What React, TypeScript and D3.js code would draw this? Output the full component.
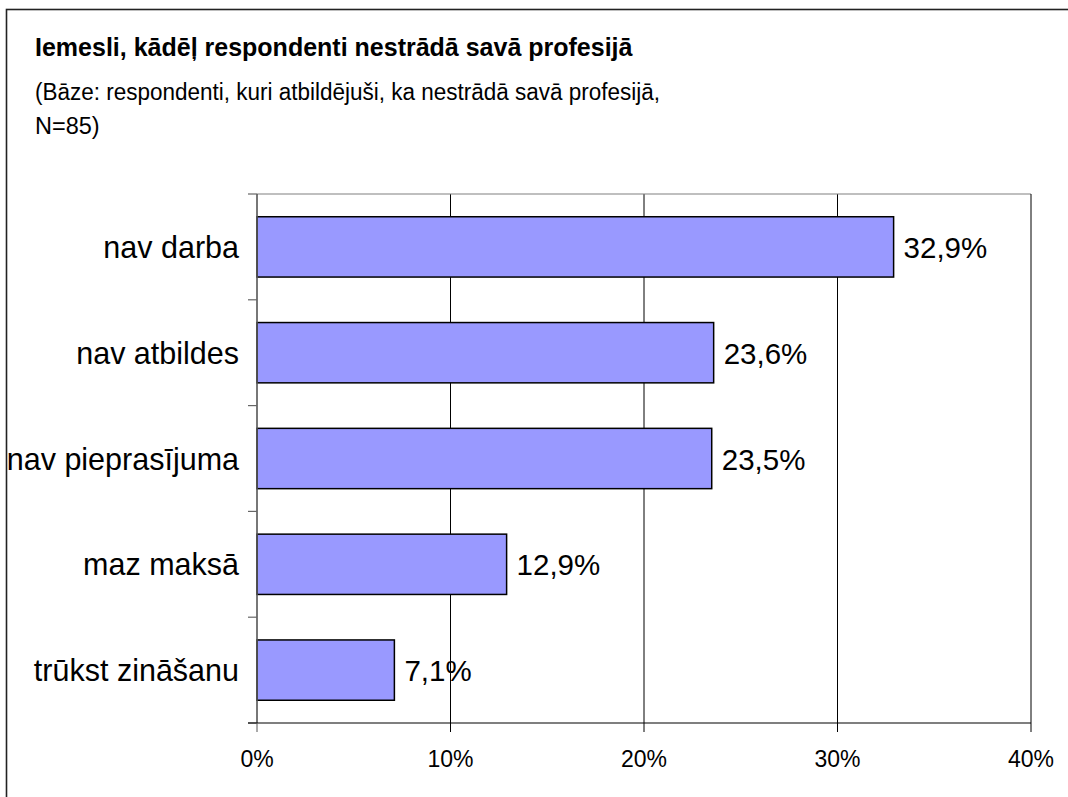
import React from "react";
import * as d3 from "d3";

const categories = ["nav darba", "nav atbildes", "nav pieprasījuma", "maz maksā", "trūkst zināšanu"];
const values = [32.9, 23.6, 23.5, 12.9, 7.1];
const valueLabels = ["32,9%", "23,6%", "23,5%", "12,9%", "7,1%"];
const xTicks = [0, 10, 20, 30, 40];
const title = "Iemesli, kādēļ respondenti nestrādā savā profesijā";
const subtitle1 = "(Bāze: respondenti, kuri atbildējuši, ka nestrādā savā profesijā,";
const subtitle2 = "N=85)";

export default function App() {
  const W = 1068, H = 797;
  const left = 257, right = 1031, top = 194, bottom = 723;
  const x = d3.scaleLinear().domain([0, 40]).range([left, right]);
  const y = d3.scaleBand<string>().domain(categories).range([top, bottom]).paddingInner(0.43).paddingOuter(0.215);
  const band = d3.scaleBand<string>().domain(categories).range([top, bottom]);
  const boundaries = categories.map((c) => band(c) as number).concat([bottom]);
  const font = "Arial, 'Liberation Sans', Helvetica, sans-serif";

  return (
    <svg width={W} height={H} style={{ position: "absolute", left: 0, top: 0, background: "#fff" }} fontFamily={font}>
      <rect x={6.5} y={9.5} width={W + 20} height={H + 20} fill="#fff" stroke="#222" strokeWidth={1.6} />
      <text x={35} y={56} fontSize={25} fontWeight="bold" fill="#000">{title}</text>
      <text x={35} y={100} fontSize={23.5} fill="#000" textLength={625} lengthAdjust="spacingAndGlyphs">{subtitle1}</text>
      <text x={35} y={134} fontSize={23.5} fill="#000">{subtitle2}</text>

      {/* grid lines */}
      {xTicks.filter((t) => t > 0 && t < 40).map((t) => (
        <line key={"g" + t} x1={x(t)} x2={x(t)} y1={top} y2={bottom} stroke="#000" strokeWidth={1} />
      ))}
      {/* plot frame */}
      <line x1={left} x2={right} y1={top} y2={top} stroke="#808080" strokeWidth={1.2} />
      <line x1={right} x2={right} y1={top} y2={bottom} stroke="#000" strokeWidth={1} />

      {/* bars */}
      {categories.map((c, i) => (
        <rect key={c} x={x(0)} y={y(c)} width={x(values[i]) - x(0)} height={y.bandwidth()}
          fill="#9999FF" stroke="#000" strokeWidth={1.5} />
      ))}

      {/* axes */}
      <line x1={left} x2={left} y1={top} y2={bottom} stroke="#555" strokeWidth={1.6} />
      {boundaries.map((b, i) => (
        <line key={"lt" + i} x1={left - 9} x2={left} y1={b} y2={b} stroke="#666" strokeWidth={1.2} />
      ))}
      <line x1={left - 9} x2={right} y1={bottom} y2={bottom} stroke="#000" strokeWidth={1.2} />
      {xTicks.map((t) => (
        <line key={"bt" + t} x1={x(t)} x2={x(t)} y1={bottom} y2={bottom + 9} stroke={t === 0 ? "#555" : "#000"} strokeWidth={1} />
      ))}
      {xTicks.map((t) => (
        <text key={"bl" + t} x={x(t)} y={767} fontSize={23} textAnchor="middle" fill="#000">{t + "%"}</text>
      ))}

      {/* category labels */}
      {categories.map((c) => (
        <text key={"cl" + c} x={239} y={(y(c) as number) + y.bandwidth() / 2 + 11} fontSize={30.5} textAnchor="end" fill="#000">{c}</text>
      ))}
      {/* value labels */}
      {categories.map((c, i) => (
        <text key={"vl" + c} x={x(values[i]) + 10} y={(y(c) as number) + y.bandwidth() / 2 + 11} fontSize={29.5} fill="#000">{valueLabels[i]}</text>
      ))}
    </svg>
  );
}
